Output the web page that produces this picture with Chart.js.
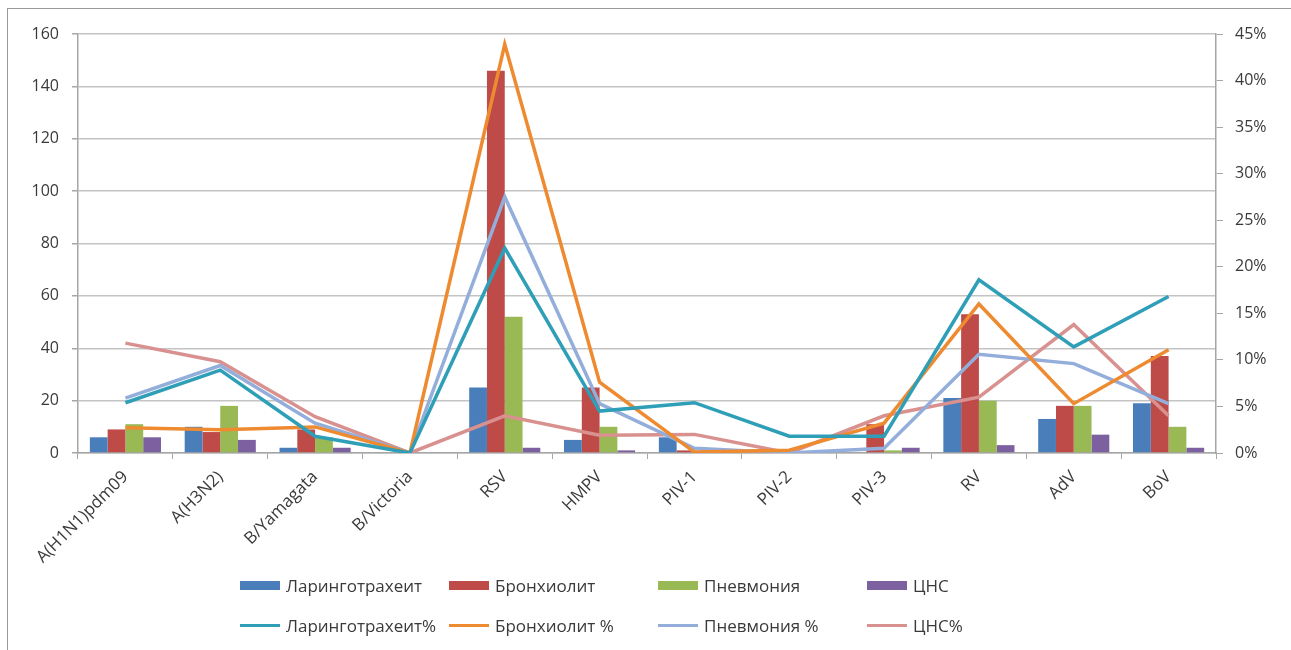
<!DOCTYPE html>
<html>
<head>
<meta charset="utf-8">
<script src="https://cdn.jsdelivr.net/npm/chart.js@4/dist/chart.umd.min.js"></script>
<style>
  html, body { margin: 0; padding: 0; background: #fff; }
  #wrap { position: relative; width: 1291px; height: 650px; }
  #frame { position: absolute; left: 7px; top: 8px; width: 1300px; height: 700px;
           border-left: 1px solid #9a9a9a; border-top: 1px solid #9a9a9a; }
  #legend { position: absolute; left: 0; top: 0; width: 1291px; height: 650px; pointer-events: none;
            font-family: "Open Sans", sans-serif; font-size: 17px; color: #3a3a3a; }
  .item { position: absolute; display: flex; align-items: center; white-space: nowrap; }
  .sw { width: 40px; margin-right: 6px; }
</style>
</head>
<body>
<div id="wrap">
  <div id="frame"></div>
  <canvas id="chart" width="1291" height="650"></canvas>
  <div id="legend"></div>
</div>
<script>
const viruses = ['A(H1N1)pdm09', 'A(H3N2)', 'B/Yamagata', 'B/Victoria', 'RSV', 'HMPV',
                 'PIV-1', 'PIV-2', 'PIV-3', 'RV', 'AdV', 'BoV'];

// counts (left axis)
const laryngo   = [6, 10, 2, 0, 25, 5, 6, 0, 0, 21, 13, 19];
const bronchio  = [9, 8, 9, 0, 146, 25, 1, 0, 11, 53, 18, 37];
const pneumo    = [11, 18, 6, 0, 52, 10, 0, 0, 1, 20, 18, 10];
const cns       = [6, 5, 2, 0, 2, 1, 0, 0, 2, 3, 7, 2];

// shares, % (right axis)
const laryngoPct  = [5.4, 8.9, 1.8, 0, 22.0, 4.5, 5.4, 1.8, 1.8, 18.6, 11.4, 16.8];
const bronchioPct = [2.7, 2.5, 2.8, 0, 43.9, 7.6, 0.1, 0.3, 3.2, 16.0, 5.3, 11.1];
const pneumoPct   = [5.9, 9.4, 3.2, 0, 27.5, 5.3, 0.5, 0, 0.5, 10.6, 9.6, 5.3];
const cnsPct      = [11.8, 9.8, 3.9, 0, 4.0, 1.9, 2.0, 0, 4.0, 6.0, 13.8, 4.0];

const leftTicks = [0, 20, 40, 60, 80, 100, 120, 140, 160];
const rightTicks = [0, 5, 10, 15, 20, 25, 30, 35, 40, 45];

const barColors = ['#4A7EBB', '#BE4B48', '#98B954', '#7D60A0'];
const lineColors = ['#2F9FB8', '#EE8A2F', '#93AEDA', '#D8918F'];

const fontFamily = '"Open Sans", sans-serif';
const textColor = '#3a3a3a';
const gridColor = '#c4c4c4';

function bar(label, data, color) {
    return {
        type: 'bar', label: label, data: data, backgroundColor: color,
        yAxisID: 'y', order: 2, categoryPercentage: 0.75, barPercentage: 1.0
    };
}

function line(label, data, color) {
    return {
        type: 'line', label: label, data: data, borderColor: color, backgroundColor: color,
        borderWidth: 3.5, pointRadius: 0, tension: 0, yAxisID: 'y1', order: 1
    };
}

const datasets = [
    bar('Ларинготрахеит', laryngo, barColors[0]),
    bar('Бронхиолит', bronchio, barColors[1]),
    bar('Пневмония', pneumo, barColors[2]),
    bar('ЦНС', cns, barColors[3]),
    line('Ларинготрахеит%', laryngoPct, lineColors[0]),
    line('Бронхиолит %', bronchioPct, lineColors[1]),
    line('Пневмония %', pneumoPct, lineColors[2]),
    line('ЦНС%', cnsPct, lineColors[3])
];

const ctx = document.getElementById('chart').getContext('2d');
const chart = new Chart(ctx, {
    data: { labels: viruses, datasets: datasets },
    options: {
        responsive: false,
        animation: false,
        layout: { padding: { top: 34, left: 0, right: 0, bottom: 0 } },
        plugins: { legend: { display: false }, tooltip: { enabled: false } },
        scales: {
            x: {
                offset: true,
                grid: { offset: true, drawOnChartArea: false, drawTicks: true, tickLength: 6, color: '#a6a6a6', lineWidth: 1 },
                border: { display: true, color: '#a6a6a6', width: 1.5 },
                ticks: {
                    minRotation: 45, maxRotation: 45, autoSkip: false, padding: 8,
                    color: textColor, font: { family: fontFamily, size: 17 }
                },
                afterFit: function(scale) { scale.height = 197; }
            },
            y: {
                position: 'left', min: 0, max: 160,
                afterBuildTicks: function(scale) { scale.ticks = leftTicks.map(v => ({ value: v })); },
                grid: { color: gridColor, lineWidth: 1.5, tickLength: 6, tickColor: '#a6a6a6' },
                border: { display: true, color: '#a6a6a6', width: 1.5 },
                ticks: { padding: 13, color: textColor, font: { family: fontFamily, size: 16 } },
                afterFit: function(scale) { scale.width = 78; }
            },
            y1: {
                position: 'right', min: 0, max: 45,
                afterBuildTicks: function(scale) { scale.ticks = rightTicks.map(v => ({ value: v })); },
                grid: { drawOnChartArea: false, tickLength: 7, color: '#a6a6a6' },
                border: { display: true, color: '#a6a6a6', width: 1.5 },
                ticks: {
                    padding: 12, color: textColor, font: { family: fontFamily, size: 16 },
                    callback: function(v) { return v + '%'; }
                },
                afterFit: function(scale) { scale.width = 75; }
            }
        }
    }
});

// legend laid out in a 4 x 2 grid like the original
const legend = document.getElementById('legend');
chart.data.datasets.forEach((ds, i) => {
    const col = i % 4;
    const row = Math.floor(i / 4);
    const item = document.createElement('div');
    item.className = 'item';
    item.style.left = (240 + col * 209) + 'px';
    item.style.top = (row === 0 ? 573 : 613) + 'px';
    item.style.height = '24px';
    const sw = document.createElement('span');
    sw.className = 'sw';
    sw.style.height = ds.type === 'line' ? '3px' : '9px';
    sw.style.background = ds.type === 'line' ? ds.borderColor : ds.backgroundColor;
    const txt = document.createElement('span');
    txt.textContent = ds.label;
    item.appendChild(sw);
    item.appendChild(txt);
    legend.appendChild(item);
});
</script>
</body>
</html>
